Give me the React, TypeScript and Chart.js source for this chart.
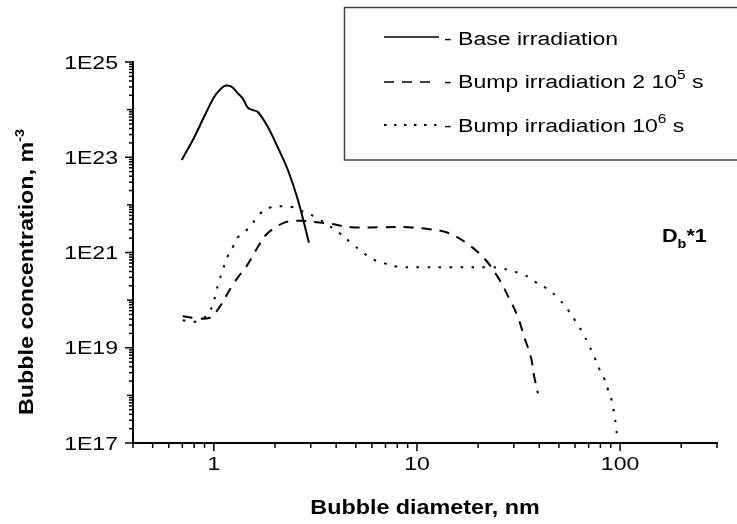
import React, { useEffect, useRef } from 'react';
import { Chart, registerables } from 'chart.js';

Chart.register(...registerables);

// ---- data ----
const baseX = [0.695, 0.8, 0.893, 1.0, 1.07, 1.146, 1.227, 1.313, 1.39, 1.47, 1.556, 1.647, 1.845, 2.066, 2.315, 2.59, 2.94];
const baseY = [8.7e22, 2.6e23, 6.9e23, 1.8e24, 2.6e24, 3.2e24, 3.0e24, 2.2e24, 1.7e24, 1.1e24, 9.8e23, 8.9e23, 4.3e23, 1.6e23, 5.4e22, 1.3e22, 1.6e21];

const bump2X = [0.703, 0.815, 0.945, 1.023, 1.083, 1.159, 1.24, 1.328, 1.438, 1.54, 1.647, 1.8, 1.975, 2.21, 2.48, 2.77, 3.07, 3.77, 4.73, 6.65, 9.03, 11.33, 14.2, 17.43, 21.38, 25.06, 28.4, 31.4, 33.7, 36.4, 37.7, 39.4];
const bump2Y = [4.6e19, 4.2e19, 4.2e19, 5.6e19, 7.9e19, 1.3e20, 2.1e20, 3.2e20, 4.9e20, 7.9e20, 1.3e21, 2.3e21, 3.2e21, 4.2e21, 4.6e21, 4.6e21, 4.4e21, 4.0e21, 3.4e21, 3.4e21, 3.4e21, 3.1e21, 2.6e21, 1.6e21, 7.6e20, 3.0e20, 1.1e20, 4.4e19, 1.7e19, 6.3e18, 2.6e18, 1.1e18];

const bump6X = [0.703, 0.797, 0.893, 0.945, 0.989, 1.023, 1.058, 1.107, 1.159, 1.24, 1.328, 1.504, 1.666, 1.91, 2.19, 2.45, 2.77, 3.18, 3.64, 4.13, 4.73, 5.42, 6.07, 6.88, 7.88, 10.47, 14.7, 22.4, 25.9, 29.0, 33.3, 37.7, 43.2, 49.5, 55.4, 60.7, 65.7, 70.4, 74.5, 78.8, 83.4, 87.3, 91.4, 93.4, 95.5, 96.6];
const bump6Y = [3.8e19, 3.5e19, 4.2e19, 5.6e19, 7.9e19, 1.4e20, 2.4e20, 4.3e20, 7.6e20, 1.3e21, 2.2e21, 3.4e21, 6.2e21, 8.9e21, 9.3e21, 8.9e21, 7.1e21, 5.5e21, 3.8e21, 2.6e21, 1.6e21, 1.0e21, 7.2e20, 6.0e20, 5.1e20, 4.9e20, 4.9e20, 4.9e20, 4.7e20, 4.1e20, 3.5e20, 2.5e20, 1.8e20, 1.1e20, 6.2e19, 3.5e19, 2.0e19, 1.1e19, 6.6e18, 3.7e18, 2.3e18, 1.3e18, 7.2e17, 4.3e17, 2.3e17, 1.3e17];

const xTickValues = [1, 10, 100];
const xTickLabels = ['1', '10', '100'];
const yTickValues = [1e17, 1e19, 1e21, 1e23, 1e25];
const yTickLabels = ['1E17', '1E19', '1E21', '1E23', '1E25'];

const xTitle = 'Bubble diameter, nm';
const yTitle = 'Bubble concentration, m';
const yTitleSup = '-3';
const annotMain = 'D';
const annotSub = 'b';
const annotTail = '*1';

const FONT = '"Liberation Sans", Arial, Helvetica, sans-serif';

type Run = { text: string; size: number; bold?: boolean; dy?: number };

function runsWidth(ctx: CanvasRenderingContext2D, runs: Run[], sx: number) {
  let w = 0;
  for (const r of runs) {
    ctx.font = `${r.bold ? 'bold ' : ''}${r.size}px ${FONT}`;
    w += ctx.measureText(r.text).width * sx;
  }
  return w;
}

function drawRuns(ctx: CanvasRenderingContext2D, runs: Run[], x: number, y: number, sx: number, align: 'left' | 'center' | 'right') {
  const total = runsWidth(ctx, runs, sx);
  let cx = align === 'left' ? x : align === 'center' ? x - total / 2 : x - total;
  ctx.textAlign = 'left';
  ctx.textBaseline = 'alphabetic';
  ctx.fillStyle = '#000';
  for (const r of runs) {
    ctx.font = `${r.bold ? 'bold ' : ''}${r.size}px ${FONT}`;
    const w = ctx.measureText(r.text).width;
    ctx.save();
    ctx.translate(cx, y + (r.dy || 0));
    ctx.scale(sx, 1);
    ctx.fillText(r.text, 0, 0);
    ctx.restore();
    cx += w * sx;
  }
}

function line(ctx: CanvasRenderingContext2D, x1: number, y1: number, x2: number, y2: number) {
  ctx.beginPath();
  ctx.moveTo(x1, y1);
  ctx.lineTo(x2, y2);
  ctx.stroke();
}

const decorPlugin = {
  id: 'decor',
  afterDraw(chart: any) {
    const ctx: CanvasRenderingContext2D = chart.ctx;
    const xs = chart.scales.x;
    const ys = chart.scales.y;
    const area = chart.chartArea;
    ctx.save();
    ctx.strokeStyle = '#000';
    ctx.lineWidth = 1.5;
    ctx.setLineDash([]);

    // y ticks (outside, left)
    for (let n = 17; n <= 25; n++) {
      for (let k = 1; k <= 9; k++) {
        const v = k * Math.pow(10, n);
        if (v > 1.0001e25) break;
        const py = ys.getPixelForValue(v);
        const len = k === 1 ? (n % 2 === 1 ? 8 : 6) : 4;
        line(ctx, area.left - len, py, area.left, py);
      }
    }
    // x ticks (outside, bottom)
    for (let n = -1; n <= 2; n++) {
      for (let k = 1; k <= 9; k++) {
        const v = k * Math.pow(10, n);
        if (v < 0.3999 || v > 300.01) continue;
        const px = xs.getPixelForValue(v);
        const len = k === 1 ? 8 : 5;
        line(ctx, px, area.bottom, px, area.bottom + len);
      }
    }

    // tick labels
    const TS = 1.28;
    yTickValues.forEach((v, i) => {
      const py = ys.getPixelForValue(v);
      drawRuns(ctx, [{ text: yTickLabels[i], size: 18 }], 118, py + 6.5, TS, 'right');
    });
    xTickValues.forEach((v, i) => {
      const px = xs.getPixelForValue(v);
      drawRuns(ctx, [{ text: xTickLabels[i], size: 18 }], px, 470, TS, 'center');
    });

    // axis titles
    drawRuns(ctx, [{ text: xTitle, size: 21, bold: true }], (area.left + area.right) / 2, 514, 1.11, 'center');
    ctx.save();
    ctx.translate(33, 415);
    ctx.rotate(-Math.PI / 2);
    drawRuns(ctx, [
      { text: yTitle, size: 21, bold: true },
      { text: yTitleSup, size: 13, bold: true, dy: -9 },
    ], 0, 0, 1.11, 'left');
    ctx.restore();

    // annotation D_b*1
    drawRuns(ctx, [
      { text: annotMain, size: 18, bold: true },
      { text: annotSub, size: 12, bold: true, dy: 6 },
      { text: annotTail, size: 18, bold: true },
    ], 662, 242, 1.2, 'left');

    // legend box
    ctx.strokeStyle = '#444';
    ctx.lineWidth = 1.5;
    ctx.strokeRect(344.5, 7.5, 420, 152.5);

    ctx.strokeStyle = '#000';
    ctx.lineWidth = 1.6;
    ctx.setLineDash([]);
    line(ctx, 384, 37, 439, 37);
    ctx.setLineDash([10, 8]);
    line(ctx, 384, 82, 431, 82);
    ctx.lineWidth = 2;
    ctx.setLineDash([2.5, 7.5]);
    line(ctx, 384, 125, 437, 125);
    ctx.setLineDash([]);

    const LS = 1.28;
    drawRuns(ctx, [{ text: '- Base irradiation', size: 18 }], 444, 45, LS, 'left');
    drawRuns(ctx, [
      { text: '- Bump irradiation 2 10', size: 18 },
      { text: '5', size: 12, dy: -9 },
      { text: ' s', size: 18 },
    ], 444, 88, LS, 'left');
    drawRuns(ctx, [
      { text: '- Bump irradiation 10', size: 18 },
      { text: '6', size: 12, dy: -9 },
      { text: ' s', size: 18 },
    ], 444, 132, LS, 'left');

    ctx.restore();
  },
};

function toPoints(xs: number[], ys: number[]) {
  return xs.map((x, i) => ({ x, y: ys[i] }));
}

export default function App() {
  const ref = useRef<HTMLCanvasElement | null>(null);
  useEffect(() => {
    if (!ref.current) return;
    const axisAfterFitX = (s: any) => { s.height = 81; };
    const axisAfterFitY = (s: any) => { s.width = 133; };
    const common = {
      borderColor: '#000',
      borderWidth: 2,
      pointRadius: 0,
      fill: false,
      tension: 0.4,
    };
    const chart = new Chart(ref.current, {
      type: 'line',
      data: {
        datasets: [
          { label: 'Base irradiation', data: toPoints(baseX, baseY), ...common },
          { label: 'Bump irradiation 2 10^5 s', data: toPoints(bump2X, bump2Y), borderDash: [10, 8], ...common },
          { label: 'Bump irradiation 10^6 s', data: toPoints(bump6X, bump6Y), borderDash: [2.5, 8.5], ...common },
        ],
      },
      options: {
        animation: false,
        responsive: false,
        devicePixelRatio: 1,
        layout: { padding: { top: 62, right: 20, left: 0, bottom: 0 } },
        plugins: { legend: { display: false }, tooltip: { enabled: false } },
        scales: {
          x: {
            type: 'logarithmic',
            position: 'bottom',
            min: 0.4,
            max: 300,
            grid: { display: false },
            border: { display: true, color: '#000', width: 2 },
            ticks: { display: false },
            afterFit: axisAfterFitX,
          },
          y: {
            type: 'logarithmic',
            position: 'left',
            min: 1e17,
            max: 1e25,
            grid: { display: false },
            border: { display: true, color: '#000', width: 2 },
            ticks: { display: false },
            afterFit: axisAfterFitY,
          },
        },
      } as any,
      plugins: [decorPlugin],
    });
    return () => chart.destroy();
  }, []);

  return (
    <div style={{ position: 'absolute', left: 0, top: 0, width: 737, height: 524, background: '#fff' }}>
      <canvas ref={ref} width={737} height={524} style={{ display: 'block', width: 737, height: 524 }} />
    </div>
  );
}
